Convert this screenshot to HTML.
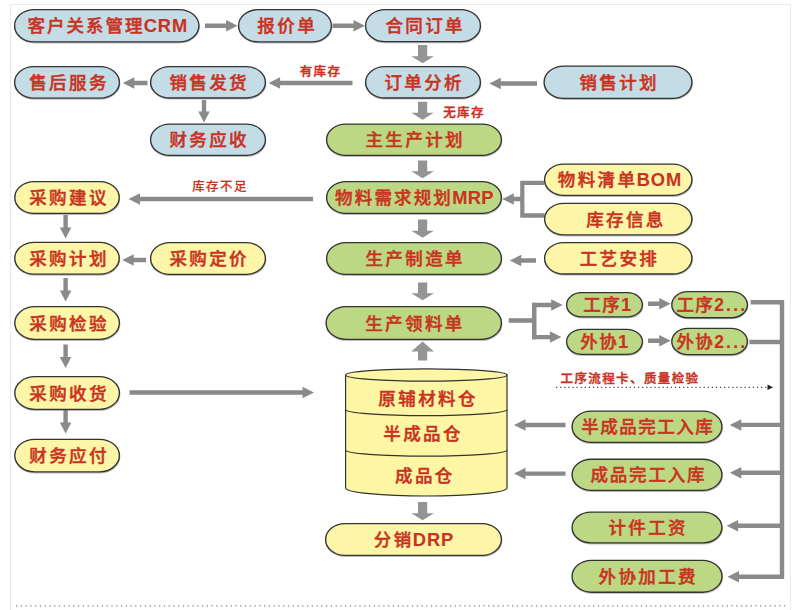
<!DOCTYPE html>
<html lang="zh-CN"><head><meta charset="utf-8"><title>ERP 流程图</title>
<style>html,body{margin:0;padding:0;background:#fff;}body{width:802px;height:610px;overflow:hidden;}svg{display:block;}text{font-family:"Liberation Sans","Noto Sans CJK SC",sans-serif;font-weight:500;fill:#c8331f;stroke:#c8331f;stroke-width:.45px;}.p{font-size:17.5px;letter-spacing:2.4px;}.s{font-size:12.5px;letter-spacing:1.4px;}.l{letter-spacing:0.9px;font-size:18.3px;}.l,.d{font-weight:700;stroke-width:.1px;}.n{letter-spacing:1.3px;}.d{letter-spacing:2.2px;}</style></head><body>
<svg width="802" height="610" viewBox="0 0 802 610">
<rect width="802" height="610" fill="#fff"/>
<path d="M10.5 610V4.5H790.5V610" fill="none" stroke="#e9e9e9" stroke-width="1"/>
<line x1="16" y1="605.8" x2="785" y2="605.8" stroke="#7c7c7c" stroke-width="1.3" stroke-dasharray="1.2 3.57"/>
<g fill="#8a8a8a">
<path d="M205 23.5H226.1V19.95L237.6 25.7L226.1 31.45V27.9H205Z"/>
<path d="M332.6 23.5H353.5V19.95L365 25.7L353.5 31.45V27.9H332.6Z"/>
<path d="M147.5 80.8H134.3V77.25L122.8 83L134.3 88.75V85.2H147.5Z"/>
<path d="M352.5 80.8H280.1V77.25L268.6 83L280.1 88.75V85.2H352.5Z"/>
<path d="M537 81.3H500.8V77.75L489.3 83.5L500.8 89.25V85.7H537Z"/>
<path d="M201.8 100V111.4H198.25L204 122.4L209.75 111.4H206.2V100Z"/>
<path d="M313 196.8H140V193.25L128.5 199L140 204.75V201.2H313Z"/>
<path d="M63.4 215V227.4H59.85L65.6 238.4L71.35 227.4H67.8V215Z"/>
<path d="M63.4 278V290.6H59.85L65.6 301.6L71.35 290.6H67.8V278Z"/>
<path d="M63.4 344.5V356.9H59.85L65.6 367.9L71.35 356.9H67.8V344.5Z"/>
<path d="M63.4 410V422.4H59.85L65.6 433.4L71.35 422.4H67.8V410Z"/>
<path d="M146 257.8H133.7V254.25L122.2 260L133.7 265.75V262.2H146Z"/>
<path d="M536 258.3H521.3V254.75L509.8 260.5L521.3 266.25V262.7H536Z"/>
<path d="M129.5 390.3H302.5V386.75L314 392.5L302.5 398.25V394.7H129.5Z"/>
<path d="M522 196.8H513.8V193.25L502.3 199L513.8 204.75V201.2H522Z"/>
<path d="M544.5 180.8H520.2V217.7H544.5V213.2H524.4V185H544.5Z"/>
<path d="M508.7 318.2H532V322.8H508.7Z"/>
<path d="M532 302.8H551.2V299.25L562.7 305L551.2 310.75V307.2H532Z"/>
<path d="M532 334.9H549.9V331.35L561.4 337.1L549.9 342.85V339.3H532Z"/>
<path d="M532 302.8H536.5V339.3H532Z"/>
<path d="M648 301.6H659.2V298.05L670.7 303.8L659.2 309.55V306H648Z"/>
<path d="M648 338.6H659.2V335.05L670.7 340.8L659.2 346.55V343H648Z"/>
<path d="M750.6 300H784.2V578.9H779.8V304.4H750.6Z"/>
<path d="M749.4 339.8H781V344.2H749.4Z"/>
<path d="M782 422.7H741.3V419.15L729.8 424.9L741.3 430.65V427.1H782Z"/>
<path d="M782 470.6H741.3V467.05L729.8 472.8L741.3 478.55V475H782Z"/>
<path d="M782 523.5H738.1V519.95L726.6 525.7L738.1 531.45V527.9H782Z"/>
<path d="M782 574.5H739V570.95L727.5 576.7L739 582.45V578.9H782Z"/>
<path d="M565.5 422.8H525.5V419.25L514 425L525.5 430.75V427.2H565.5Z"/>
<path d="M565.5 471.4H525.5V467.85L514 473.6L525.5 479.35V475.8H565.5Z"/>
</g>
<path fill="#949494" d="M418 45V56.2H411.35L422.6 63.2L433.85 56.2H427.2V45ZM418 101.7V112.7H411.35L422.6 119.7L433.85 112.7H427.2V101.7ZM418 160.5V171.2H411.35L422.6 178.2L433.85 171.2H427.2V160.5ZM418 219.5V230.7H411.35L422.6 237.7L433.85 230.7H427.2V219.5ZM418 282.5V293.2H411.35L422.6 300.2L433.85 293.2H427.2V282.5ZM418 360.5V351.4H411.35L422.6 341.4L433.85 351.4H427.2V360.5ZM418 502V513.2H411.35L422.6 520.2L433.85 513.2H427.2V502Z"/>
<g stroke="#333" stroke-width="1.2" fill="#fdf7a5">
<path d="M345.6 375V488A80.7 8 0 0 0 507 488V375Z"/>
<ellipse cx="426.3" cy="375" rx="80.7" ry="6.2"/>
<path d="M345.6 409.5A80.7 6.2 0 0 0 507 409.5M345.6 450A80.7 6.2 0 0 0 507 450" fill="none"/>
</g>
<rect x="14.9" y="10.5" width="184.3" height="32.3" rx="19.703" ry="16.15" fill="none" stroke="#666" stroke-opacity=".45" stroke-width="1.4"/>
<rect x="14.6" y="9.6" width="184.3" height="32.3" rx="19.703" ry="16.15" fill="#c4dce6" stroke="#333" stroke-width="1.35"/>
<rect x="238.9" y="10.5" width="92.8" height="32.3" rx="19.703" ry="16.15" fill="none" stroke="#666" stroke-opacity=".45" stroke-width="1.4"/>
<rect x="238.6" y="9.6" width="92.8" height="32.3" rx="19.703" ry="16.15" fill="#c4dce6" stroke="#333" stroke-width="1.35"/>
<rect x="365.9" y="10.5" width="114.8" height="32.1" rx="19.581" ry="16.05" fill="none" stroke="#666" stroke-opacity=".45" stroke-width="1.4"/>
<rect x="365.6" y="9.6" width="114.8" height="32.1" rx="19.581" ry="16.05" fill="#c4dce6" stroke="#333" stroke-width="1.35"/>
<rect x="14.9" y="67.5" width="104.8" height="31.5" rx="19.215" ry="15.75" fill="none" stroke="#666" stroke-opacity=".45" stroke-width="1.4"/>
<rect x="14.6" y="66.6" width="104.8" height="31.5" rx="19.215" ry="15.75" fill="#c4dce6" stroke="#333" stroke-width="1.35"/>
<rect x="150.9" y="67.5" width="114.8" height="31.4" rx="19.154" ry="15.7" fill="none" stroke="#666" stroke-opacity=".45" stroke-width="1.4"/>
<rect x="150.6" y="66.6" width="114.8" height="31.4" rx="19.154" ry="15.7" fill="#c4dce6" stroke="#333" stroke-width="1.35"/>
<rect x="365.9" y="67.5" width="114.8" height="31.4" rx="19.154" ry="15.7" fill="none" stroke="#666" stroke-opacity=".45" stroke-width="1.4"/>
<rect x="365.6" y="66.6" width="114.8" height="31.4" rx="19.154" ry="15.7" fill="#c4dce6" stroke="#333" stroke-width="1.35"/>
<rect x="544.4" y="67" width="147.8" height="32.3" rx="19.703" ry="16.15" fill="none" stroke="#666" stroke-opacity=".45" stroke-width="1.4"/>
<rect x="544.1" y="66.1" width="147.8" height="32.3" rx="19.703" ry="16.15" fill="#c4dce6" stroke="#333" stroke-width="1.35"/>
<rect x="150.9" y="125" width="114.8" height="31.3" rx="19.093" ry="15.65" fill="none" stroke="#666" stroke-opacity=".45" stroke-width="1.4"/>
<rect x="150.6" y="124.1" width="114.8" height="31.3" rx="19.093" ry="15.65" fill="#c4dce6" stroke="#333" stroke-width="1.35"/>
<rect x="326.9" y="125" width="174.8" height="31.3" rx="19.093" ry="15.65" fill="none" stroke="#666" stroke-opacity=".45" stroke-width="1.4"/>
<rect x="326.6" y="124.1" width="174.8" height="31.3" rx="19.093" ry="15.65" fill="#bdd885" stroke="#333" stroke-width="1.35"/>
<rect x="326.9" y="182.5" width="174.8" height="31.8" rx="19.398" ry="15.9" fill="none" stroke="#666" stroke-opacity=".45" stroke-width="1.4"/>
<rect x="326.6" y="181.6" width="174.8" height="31.8" rx="19.398" ry="15.9" fill="#bdd885" stroke="#333" stroke-width="1.35"/>
<rect x="326.9" y="243.5" width="174.8" height="31.8" rx="19.398" ry="15.9" fill="none" stroke="#666" stroke-opacity=".45" stroke-width="1.4"/>
<rect x="326.6" y="242.6" width="174.8" height="31.8" rx="19.398" ry="15.9" fill="#bdd885" stroke="#333" stroke-width="1.35"/>
<rect x="326.4" y="307.5" width="175.3" height="32.8" rx="20.008" ry="16.4" fill="none" stroke="#666" stroke-opacity=".45" stroke-width="1.4"/>
<rect x="326.1" y="306.6" width="175.3" height="32.8" rx="20.008" ry="16.4" fill="#bdd885" stroke="#333" stroke-width="1.35"/>
<rect x="544.9" y="165" width="147.3" height="31.3" rx="19.093" ry="15.65" fill="none" stroke="#666" stroke-opacity=".45" stroke-width="1.4"/>
<rect x="544.6" y="164.1" width="147.3" height="31.3" rx="19.093" ry="15.65" fill="#fdf6a8" stroke="#333" stroke-width="1.35"/>
<rect x="544.9" y="204.2" width="147.3" height="31.5" rx="19.215" ry="15.75" fill="none" stroke="#666" stroke-opacity=".45" stroke-width="1.4"/>
<rect x="544.6" y="203.3" width="147.3" height="31.5" rx="19.215" ry="15.75" fill="#fdf6a8" stroke="#333" stroke-width="1.35"/>
<rect x="544.9" y="243.5" width="147.3" height="31.4" rx="19.154" ry="15.7" fill="none" stroke="#666" stroke-opacity=".45" stroke-width="1.4"/>
<rect x="544.6" y="242.6" width="147.3" height="31.4" rx="19.154" ry="15.7" fill="#fdf6a8" stroke="#333" stroke-width="1.35"/>
<rect x="15.1" y="182.5" width="104.4" height="31.8" rx="19.398" ry="15.9" fill="none" stroke="#666" stroke-opacity=".45" stroke-width="1.4"/>
<rect x="14.8" y="181.6" width="104.4" height="31.8" rx="19.398" ry="15.9" fill="#fdf6a8" stroke="#333" stroke-width="1.35"/>
<rect x="15.1" y="243.2" width="104.4" height="31.8" rx="19.398" ry="15.9" fill="none" stroke="#666" stroke-opacity=".45" stroke-width="1.4"/>
<rect x="14.8" y="242.3" width="104.4" height="31.8" rx="19.398" ry="15.9" fill="#fdf6a8" stroke="#333" stroke-width="1.35"/>
<rect x="150.9" y="243.5" width="114.8" height="31.8" rx="19.398" ry="15.9" fill="none" stroke="#666" stroke-opacity=".45" stroke-width="1.4"/>
<rect x="150.6" y="242.6" width="114.8" height="31.8" rx="19.398" ry="15.9" fill="#fdf6a8" stroke="#333" stroke-width="1.35"/>
<rect x="15.1" y="307.5" width="104.6" height="32.8" rx="20.008" ry="16.4" fill="none" stroke="#666" stroke-opacity=".45" stroke-width="1.4"/>
<rect x="14.8" y="306.6" width="104.6" height="32.8" rx="20.008" ry="16.4" fill="#fdf6a8" stroke="#333" stroke-width="1.35"/>
<rect x="15.1" y="377.5" width="104.6" height="32.8" rx="20.008" ry="16.4" fill="none" stroke="#666" stroke-opacity=".45" stroke-width="1.4"/>
<rect x="14.8" y="376.6" width="104.6" height="32.8" rx="20.008" ry="16.4" fill="#fdf6a8" stroke="#333" stroke-width="1.35"/>
<rect x="15.1" y="440.2" width="104.6" height="32.6" rx="19.886" ry="16.3" fill="none" stroke="#666" stroke-opacity=".45" stroke-width="1.4"/>
<rect x="14.8" y="439.3" width="104.6" height="32.6" rx="19.886" ry="16.3" fill="#fdf6a8" stroke="#333" stroke-width="1.35"/>
<rect x="325.9" y="524.5" width="175.8" height="31.8" rx="19.398" ry="15.9" fill="none" stroke="#666" stroke-opacity=".45" stroke-width="1.4"/>
<rect x="325.6" y="523.6" width="175.8" height="31.8" rx="19.398" ry="15.9" fill="#fdf6a8" stroke="#333" stroke-width="1.35"/>
<rect x="566.9" y="293.5" width="75.8" height="24.3" rx="14.823" ry="12.15" fill="none" stroke="#666" stroke-opacity=".45" stroke-width="1.4"/>
<rect x="566.6" y="292.6" width="75.8" height="24.3" rx="14.823" ry="12.15" fill="#bdd885" stroke="#333" stroke-width="1.35"/>
<rect x="672.1" y="292.5" width="75.6" height="26.1" rx="15.921" ry="13.05" fill="none" stroke="#666" stroke-opacity=".45" stroke-width="1.4"/>
<rect x="671.8" y="291.6" width="75.6" height="26.1" rx="15.921" ry="13.05" fill="#bdd885" stroke="#333" stroke-width="1.35"/>
<rect x="566.9" y="330.2" width="75.8" height="25.1" rx="15.311" ry="12.55" fill="none" stroke="#666" stroke-opacity=".45" stroke-width="1.4"/>
<rect x="566.6" y="329.3" width="75.8" height="25.1" rx="15.311" ry="12.55" fill="#bdd885" stroke="#333" stroke-width="1.35"/>
<rect x="672.1" y="329.3" width="75.6" height="26.3" rx="16.043" ry="13.15" fill="none" stroke="#666" stroke-opacity=".45" stroke-width="1.4"/>
<rect x="671.8" y="328.4" width="75.6" height="26.3" rx="16.043" ry="13.15" fill="#bdd885" stroke="#333" stroke-width="1.35"/>
<rect x="572.4" y="412" width="149.8" height="31.3" rx="19.093" ry="15.65" fill="none" stroke="#666" stroke-opacity=".45" stroke-width="1.4"/>
<rect x="572.1" y="411.1" width="149.8" height="31.3" rx="19.093" ry="15.65" fill="#bdd885" stroke="#333" stroke-width="1.35"/>
<rect x="572.4" y="460.1" width="149.8" height="31.2" rx="19.032" ry="15.6" fill="none" stroke="#666" stroke-opacity=".45" stroke-width="1.4"/>
<rect x="572.1" y="459.2" width="149.8" height="31.2" rx="19.032" ry="15.6" fill="#bdd885" stroke="#333" stroke-width="1.35"/>
<rect x="572.4" y="513" width="149.8" height="30.8" rx="18.788" ry="15.4" fill="none" stroke="#666" stroke-opacity=".45" stroke-width="1.4"/>
<rect x="572.1" y="512.1" width="149.8" height="30.8" rx="18.788" ry="15.4" fill="#bdd885" stroke="#333" stroke-width="1.35"/>
<rect x="572.4" y="561.2" width="149.9" height="31.9" rx="19.459" ry="15.95" fill="none" stroke="#666" stroke-opacity=".45" stroke-width="1.4"/>
<rect x="572.1" y="560.3" width="149.9" height="31.9" rx="19.459" ry="15.95" fill="#bdd885" stroke="#333" stroke-width="1.35"/>
<text class="p" x="107.8" y="32.25" text-anchor="middle"><tspan style="letter-spacing:2px">客户关系管理</tspan><tspan class="l" dx="-0.7">CRM</tspan></text>
<text class="p" x="287.2" y="32.25" text-anchor="middle">报价单</text>
<text class="p" x="425.2" y="32.15" text-anchor="middle">合同订单</text>
<text class="p" x="69" y="88.85" text-anchor="middle">售后服务</text>
<text class="p" x="209.2" y="88.8" text-anchor="middle">销售发货</text>
<text class="p" x="424.2" y="88.8" text-anchor="middle">订单分析</text>
<text class="p" x="619.2" y="88.75" text-anchor="middle">销售计划</text>
<text class="p" x="209.2" y="146.25" text-anchor="middle">财务应收</text>
<text class="p" x="415.2" y="146.25" text-anchor="middle">主生产计划</text>
<text class="p" x="414.45" y="204" text-anchor="middle"><tspan style="letter-spacing:2.15px">物料需求规划</tspan><tspan class="l" dx="-0.7" style="letter-spacing:0.3px">MRP</tspan></text>
<text class="p" x="415.2" y="265" text-anchor="middle">生产制造单</text>
<text class="p" x="414.95" y="329.5" text-anchor="middle">生产领料单</text>
<text class="p" x="619.9" y="186.25" text-anchor="middle">物料清单<tspan class="l" dx="-0.7">BOM</tspan></text>
<text class="p" x="625.95" y="225.55" text-anchor="middle">库存信息</text>
<text class="p" x="619.45" y="264.8" text-anchor="middle">工艺安排</text>
<text class="p" x="69" y="204" text-anchor="middle">采购建议</text>
<text class="p" x="69" y="264.7" text-anchor="middle">采购计划</text>
<text class="p" x="209.2" y="265" text-anchor="middle">采购定价</text>
<text class="p" x="69.1" y="329.5" text-anchor="middle">采购检验</text>
<text class="p" x="69.1" y="399.5" text-anchor="middle">采购收货</text>
<text class="p" x="69.1" y="462.1" text-anchor="middle">财务应付</text>
<text class="p" x="413.95" y="546" text-anchor="middle">分销<tspan class="l" dx="-0.7">DRP</tspan></text>
<text class="p" x="607.7" y="311.25" text-anchor="middle"><tspan class="n">工序</tspan><tspan class="l">1</tspan></text>
<text class="p" x="711.9" y="311.15" text-anchor="middle"><tspan class="n">工序</tspan><tspan class="d">2...</tspan></text>
<text class="p" x="604.7" y="348.35" text-anchor="middle"><tspan class="n">外协</tspan><tspan class="l">1</tspan></text>
<text class="p" x="711.9" y="348.05" text-anchor="middle"><tspan class="n">外协</tspan><tspan class="d">2...</tspan></text>
<text class="p" x="647.75" y="433.25" text-anchor="middle"><tspan style="letter-spacing:1.5px">半成品完工入库</tspan></text>
<text class="p" x="648.4" y="481.3" text-anchor="middle"><tspan style="letter-spacing:1.8px">成品完工入库</tspan></text>
<text class="p" x="648.2" y="534" text-anchor="middle">计件工资</text>
<text class="p" x="648.25" y="582.75" text-anchor="middle">外协加工费</text>
<text class="p" x="428.1" y="405.2" text-anchor="middle">原辅材料仓</text>
<text class="p" x="423.1" y="440.2" text-anchor="middle">半成品仓</text>
<text class="p" x="424.9" y="482.2" text-anchor="middle">成品仓</text>
<text class="s" x="320.5" y="76" text-anchor="middle">有库存</text>
<text class="s" x="464" y="117.3" text-anchor="middle">无库存</text>
<text class="s" x="220" y="191.3" text-anchor="middle" style="stroke-width:.15px">库存不足</text>
<text class="s" x="630" y="383" text-anchor="middle">工序流程卡、质量检验</text>
<line x1="556" y1="387.3" x2="768" y2="387.3" stroke="#444" stroke-width="1.2" stroke-dasharray="1.2 2.9"/>
<path d="M767.5 384.5L773 387.3L767.5 390.1Z" fill="#222"/>
</svg></body></html>
